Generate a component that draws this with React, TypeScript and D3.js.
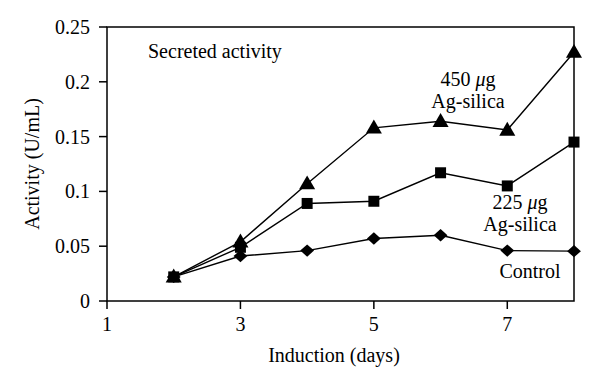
import React from 'react';
import * as d3 from 'd3';

const days = [2, 3, 4, 5, 6, 7, 8];
const control = [0.022, 0.041, 0.046, 0.057, 0.06, 0.046, 0.0455];
const ag225 = [0.022, 0.049, 0.089, 0.091, 0.117, 0.105, 0.145];
const ag450 = [0.022, 0.054, 0.107, 0.158, 0.164, 0.156, 0.227];
const xTicks = [1, 3, 5, 7];
const yTicks = [0, 0.05, 0.1, 0.15, 0.2, 0.25];

const App = () => {
  const width = 600;
  const height = 388;
  const margin = { top: 27, right: 26, bottom: 87, left: 107 };
  const innerW = width - margin.left - margin.right;
  const innerH = height - margin.top - margin.bottom;
  const font = "'Liberation Serif', 'DejaVu Serif', 'Times New Roman', serif";
  const fs = 20;

  const x = d3.scaleLinear().domain([1, 8]).range([0, innerW]);
  const y = d3.scaleLinear().domain([0, 0.25]).range([innerH, 0]);

  const line = d3
    .line<number>()
    .x((_, i) => x(days[i]))
    .y((d) => y(d));

  const tri = d3.symbol().type(d3.symbolTriangle).size(112)();
  const sq = d3.symbol().type(d3.symbolSquare).size(121)();
  const dia = d3.symbol().type(d3.symbolSquare).size(76)();

  // marker shape per series (diamond = rotated square, a bit wider than tall)
  const series = [
    { values: control, path: dia, tf: 'scale(1.12,1) rotate(45)' },
    { values: ag225, path: sq, tf: '' },
    { values: ag450, path: tri, tf: 'translate(0,1)' },
  ];

  const T = (props: any) => <text style={{ fontFamily: font }} fontSize={fs} {...props} />;

  return (
    <div style={{ margin: -8 }}>
      <svg width={width} height={height} style={{ display: 'block' }}>
        <rect width={width} height={height} fill="#fff" />
        <g transform={`translate(${margin.left},${margin.top})`}>
          {/* frame */}
          <rect x={0} y={0} width={innerW} height={innerH} fill="none" stroke="#000" strokeWidth={1.5} />
          {/* y ticks */}
          {yTicks.map((t) => (
            <g key={t} transform={`translate(0,${y(t)})`}>
              <line x1={-8} x2={0} stroke="#000" strokeWidth={1.5} />
              <T x={-17} dy="0.35em" textAnchor="end">
                {t === 0 ? '0' : String(t)}
              </T>
            </g>
          ))}
          {/* x ticks */}
          {xTicks.map((t) => (
            <g key={t} transform={`translate(${x(t)},${innerH})`}>
              <line y1={0} y2={8} stroke="#000" strokeWidth={1.5} />
              <T y={30} textAnchor="middle">
                {t}
              </T>
            </g>
          ))}
          {series.map((s, k) => (
            <g key={k}>
              <path d={line(s.values) || ''} fill="none" stroke="#000" strokeWidth={1.4} />
              {s.values.map((v, i) => (
                <path
                  key={i}
                  d={s.path || ''}
                  transform={`translate(${x(days[i])},${y(v)}) ${s.tf}`}
                  fill="#000"
                />
              ))}
            </g>
          ))}
          <T x={41} y={31}>Secreted activity</T>
          <T x={361} y={59} textAnchor="middle">
            450 <tspan fontStyle="italic">μ</tspan>g
          </T>
          <T x={361} y={81} textAnchor="middle">Ag-silica</T>
          <T x={413} y={182} textAnchor="middle">
            225 <tspan fontStyle="italic">μ</tspan>g
          </T>
          <T x={413} y={204} textAnchor="middle">Ag-silica</T>
          <T x={423} y={251} textAnchor="middle">Control</T>
        </g>
        <T transform={`translate(39,${margin.top + innerH / 2}) rotate(-90)`} textAnchor="middle">
          Activity (U/mL)
        </T>
        <T x={334} y={362} textAnchor="middle">
          Induction (days)
        </T>
      </svg>
    </div>
  );
};

export default App;
